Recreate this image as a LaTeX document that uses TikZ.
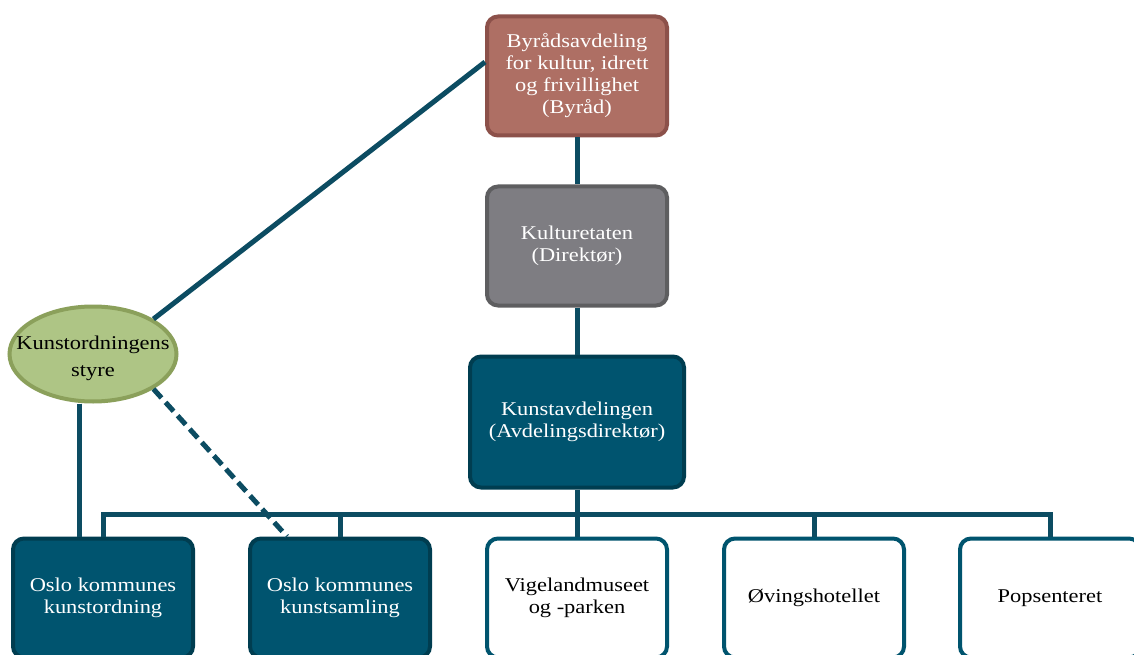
\documentclass[tikz,border=0pt]{standalone}
\usepackage{fontspec}
\setmainfont{Liberation Serif}[FakeStretch=1.15]
\usetikzlibrary{shapes.geometric}
\definecolor{conn}{RGB}{12,76,98}
\definecolor{tealfill}{RGB}{0,84,111}
\definecolor{tealdraw}{RGB}{0,61,80}
\definecolor{redfill}{RGB}{174,111,100}
\definecolor{reddraw}{RGB}{140,81,74}
\definecolor{grayfill}{RGB}{126,125,130}
\definecolor{graydraw}{RGB}{94,94,96}
\definecolor{greenfill}{RGB}{174,197,133}
\definecolor{greendraw}{RGB}{139,160,91}
\definecolor{boxdraw}{RGB}{0,84,110}
\tikzset{
  orgbox/.style={rectangle, rounded corners=11pt, line width=4pt, align=center,
    font=\fontsize{19.5}{22}\selectfont, inner sep=0pt},
  topbox/.style={orgbox, fill=redfill, draw=reddraw, text=white, minimum width=180pt, minimum height=119pt},
  graybox/.style={orgbox, fill=grayfill, draw=graydraw, text=white, minimum width=180pt, minimum height=119pt},
  darkbox/.style={orgbox, fill=tealfill, draw=tealdraw, text=white},
  lowdark/.style={orgbox, fill=tealfill, draw=tealdraw, text=white, minimum width=180pt, minimum height=119pt},
  lowwhite/.style={orgbox, fill=white, draw=boxdraw, text=black, minimum width=180pt, minimum height=119pt},
  boardell/.style={ellipse, fill=greenfill, draw=greendraw, line width=4pt,
    minimum width=167pt, minimum height=95pt, inner sep=0pt},
  boardtext/.style={align=center, inner sep=0pt, font=\fontsize{19.5}{27}\selectfont, text=black},
  link/.style={draw=conn, line width=5pt},
  dashlink/.style={draw=conn, line width=5pt, dash pattern=on 12pt off 6pt}
}
\begin{document}
\begin{tikzpicture}[x=1pt, y=-1pt]
\clip (0,0) rectangle (1134,655);
\fill[white] (0,0) rectangle (1134,655);
\node[topbox] (top) at (577,76) {Byrådsavdeling\\for kultur, idrett\\og frivillighet\\(Byråd)};
\node[graybox] (kult) at (577,246) {Kulturetaten\\(Direktør)};
\node[darkbox, minimum width=214pt, minimum height=131pt] (kunst) at (577,422) {Kunstavdelingen\\(Avdelingsdirektør)};
\node[boardell] (ell) at (93,354) {};
\node[boardtext] (elltext) at (93,358) {Kunstordningens\\styre};
\node[lowdark] (b1) at (103,598) {Oslo kommunes\\kunstordning};
\node[lowdark] (b2) at (340,598) {Oslo kommunes\\kunstsamling};
\node[lowwhite] (b3) at (577,598) {Vigelandmuseet\\og -parken};
\node[lowwhite] (b4) at (814,598) {Øvingshotellet};
\node[lowwhite] (b5) at (1050,598) {Popsenteret};
\coordinate (bus) at (577,514);
\coordinate (e1) at ([xshift=-14pt]ell.south);
\coordinate (d2) at ([xshift=-53pt]b2.north);
\path[link] (top.south) -- (kult.north);
\path[link] (kult.south) -- (kunst.north);
\path[link] (kunst.south) -- (b3.north);
\path[link] (b1.north) -- (b1.north |- bus) -- (b5.north |- bus) -- (b5.north);
\path[link] (b2.north) -- (b2.north |- bus);
\path[link] (b4.north) -- (b4.north |- bus);
\path[link] (ell.north east) -- ([yshift=14pt]top.west);
\path[link] (e1) -- (e1 |- b1.north);
\path[dashlink] (ell.south east) -- (d2);
\end{tikzpicture}
\end{document}
